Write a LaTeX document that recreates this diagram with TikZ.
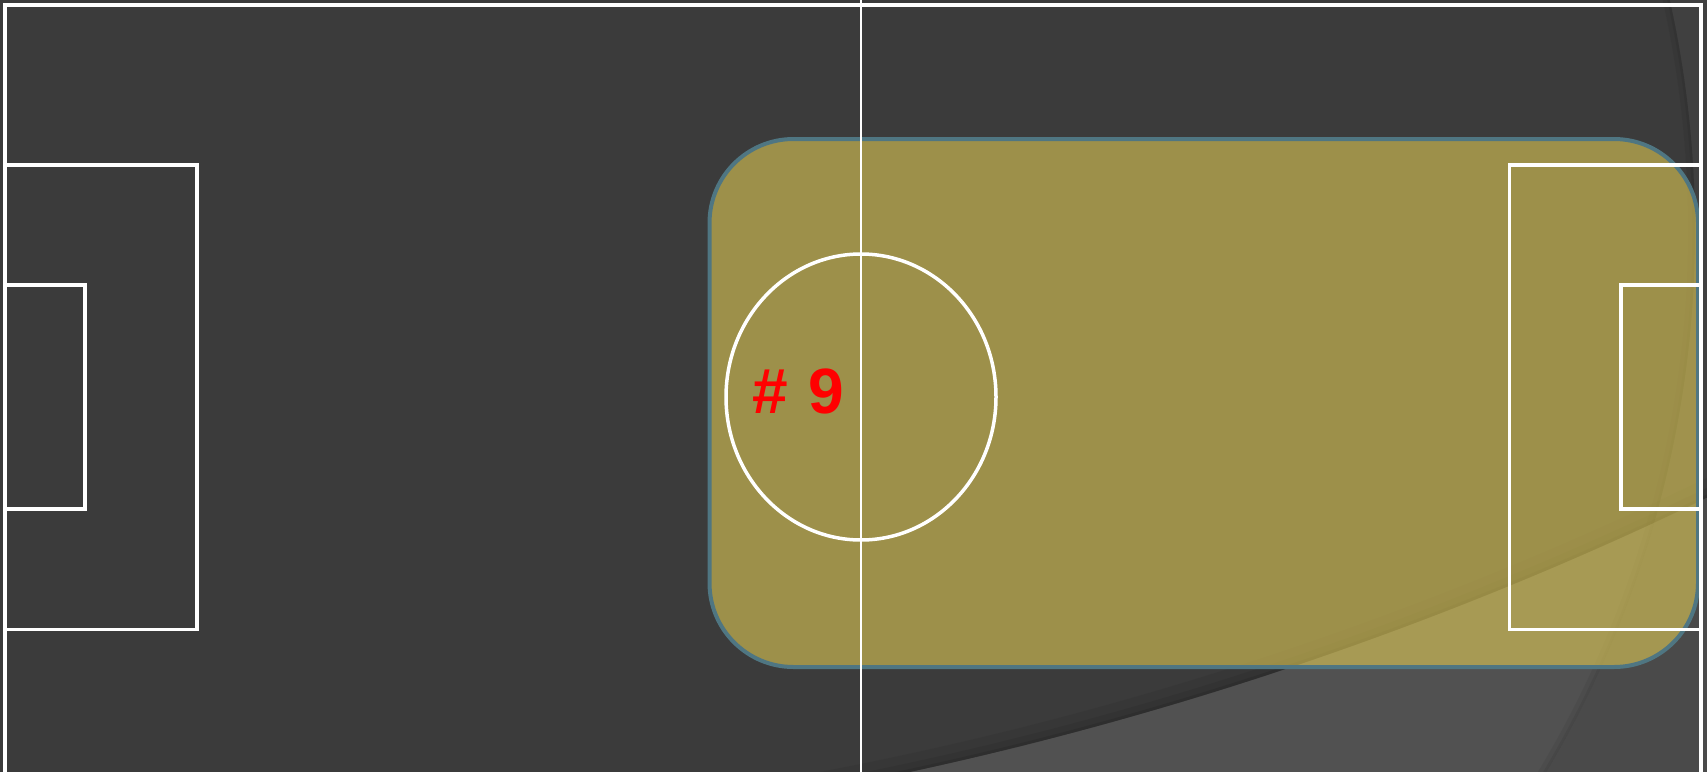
\documentclass[tikz,border=0pt]{standalone}
\usepackage{fontspec}
\setmainfont{Liberation Sans}
\definecolor{bgdark}{HTML}{3B3B3B}
\definecolor{bglight}{HTML}{515151}
\definecolor{bandtop}{HTML}{404040}
\definecolor{bandlow}{HTML}{4A4A4A}
\definecolor{zonefill}{RGB}{239,215,88}
\definecolor{zoneedge}{HTML}{4F7682}
\tikzset{
  fieldline/.style={draw=white, line width=3.5pt, line join=miter},
  midline/.style={draw=white, line width=2pt},
  zone/.style={draw=zoneedge, line width=4pt, fill=zonefill, fill opacity=0.55, rounded corners=84pt},
  playerlabel/.style={text=red, font=\fontsize{64}{64}\selectfont\bfseries, inner sep=0pt, outer sep=0pt, anchor=base west}
}
\begin{document}
\begin{tikzpicture}[x=1pt, y=-1pt]
\useasboundingbox (0,0) rectangle (1707,771);
\begin{scope}
\clip (-10,-10) rectangle (1717,781);
% background
\fill[bgdark] (-10,-10) rectangle (1717,781);
\def\arcA{(148,-2737) circle [radius=3590pt]}
\def\arcB{(638,230.6) circle [radius=1057pt]}
% band right of arc B
\fill[bandtop, even odd rule] (-10,-10) rectangle (1717,781) \arcB;
% lighter region below arc A
\fill[bglight, even odd rule] (-10,-10) rectangle (1717,781) \arcA;
\begin{scope}[even odd rule]
  \clip (-10,-10) rectangle (1717,781) \arcA;
  \fill[bandlow] (-10,-10) rectangle (1717,781) \arcB;
\end{scope}
% soft shadow above arc A
\begin{scope}
  \clip \arcA;
  \draw[black, opacity=0.05, line width=36pt] \arcA;
  \draw[black, opacity=0.07, line width=18pt] \arcA;
  \draw[black, opacity=0.09, line width=6pt] \arcA;
\end{scope}
% soft shadow left of arc B
\begin{scope}
  \clip \arcB;
  \draw[black, opacity=0.05, line width=14pt] \arcB;
  \draw[black, opacity=0.06, line width=5pt] \arcB;
\end{scope}
% highlighted zone
\path[zone] (709.5,139) rectangle (1698,667);
% pitch markings
\draw[fieldline] (5,789) -- (5,5) -- (1701,5) -- (1701,789);
\draw[fieldline] (5,165) -- (197,165) -- (197,629.5) -- (5,629.5);
\draw[fieldline] (5,285) -- (85,285) -- (85,509) -- (5,509);
\draw[fieldline] (1701,165) -- (1509.5,165) -- (1509.5,629.5) -- (1701,629.5);
\draw[fieldline] (1701,285) -- (1621,285) -- (1621,509) -- (1701,509);
\draw[midline] (861,-10) -- (861,781);
\draw[fieldline] (861,397) ellipse [x radius=135pt, y radius=143pt];
% label
\node[playerlabel] (p9) at (752,413) {\#\,\,9};
\end{scope}
\end{tikzpicture}
\end{document}
